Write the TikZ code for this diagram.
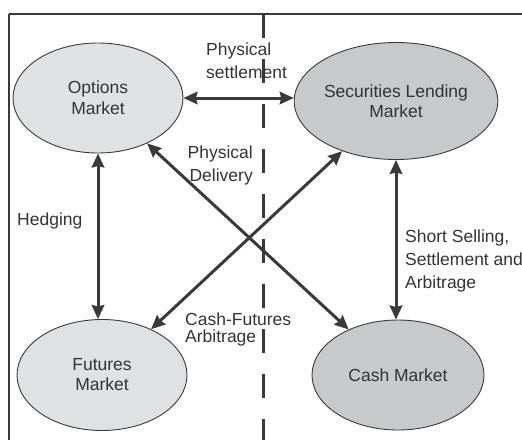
\documentclass[tikz,border=0pt]{standalone}
\usepackage{fontspec}
\setmainfont{Liberation Sans}
\usetikzlibrary{arrows.meta,shapes.geometric}
\definecolor{ink}{HTML}{3A3A3A}
\definecolor{txt}{HTML}{333333}
\definecolor{lightfill}{HTML}{E0E1E3}
\definecolor{darkfill}{HTML}{C8C9CB}
\tikzset{
  mkt/.style={ellipse,draw=ink,line width=0.9pt,inner sep=0pt,text=txt,align=center,
    font=\fontsize{17.5}{21}\selectfont},
  lbl/.style={inner sep=0pt,text=txt,font=\fontsize{17.5}{23}\selectfont},
  link/.style={draw=ink,line width=3pt,{Stealth[length=14pt,width=12.5pt,inset=1.5pt]}-{Stealth[length=14pt,width=12.5pt,inset=1.5pt]}},
  frameline/.style={draw=ink}
}
\begin{document}
\begin{tikzpicture}[x=1pt,y=-1pt]
\useasboundingbox (0,0) rectangle (522,440);
% frame
\coordinate (ftl) at (9,14);
\coordinate (ftr) at (522,14);
\coordinate (fbl) at (9,440);
\draw[frameline,line width=2.3pt] (ftl) -- (ftr);
\draw[frameline,line width=1.2pt] (ftl) -- (fbl);
% dashed divider
\coordinate (dtop) at (263.5,14);
\coordinate (dbot) at (263.5,440);
\draw[draw=ink,line width=3pt,dash pattern=on 23.5pt off 21.5pt] (dtop) -- (dbot);
% markets
\node[mkt,fill=lightfill,minimum width=170pt,minimum height=110pt] (opt) at (98,98) {Options\\Market};
\node[mkt,fill=darkfill,minimum width=183pt,minimum height=117pt,font=\fontsize{17.5}{20}\selectfont] (sec) at (396,101) {Securities Lending\\Market};
\node[mkt,fill=lightfill,minimum width=170pt,minimum height=111pt,font=\fontsize{17.5}{20}\selectfont] (fut) at (102,375) {Futures\\Market};
\node[mkt,fill=darkfill,minimum width=172pt,minimum height=110pt] (cash) at (398,375) {Cash Market};
% connectors
\draw[link] (opt.east) -- (opt.east -| sec.west);
\draw[link] (opt.south) -- (opt.south |- fut.north);
\draw[link] (sec.south) -- (sec.south |- cash.north);
\draw[link] (opt) -- (cash);
\draw[link] (sec) -- (fut);
% labels
\node[lbl,align=left,anchor=west] (l1) at (206,61) {Physical\\settlement};
\node[lbl,align=right,anchor=east] (l2) at (253,165) {Physical\\Delivery};
\node[lbl,anchor=west] (l3) at (17,221) {Hedging};
\node[lbl,align=left,anchor=west] (l4) at (405,261) {Short Selling,\\Settlement and\\Arbitrage};
\node[lbl,align=left,anchor=west,font=\fontsize{17.5}{17}\selectfont] (l5) at (185,329) {Cash-Futures\\Arbitrage};
\end{tikzpicture}
\end{document}
